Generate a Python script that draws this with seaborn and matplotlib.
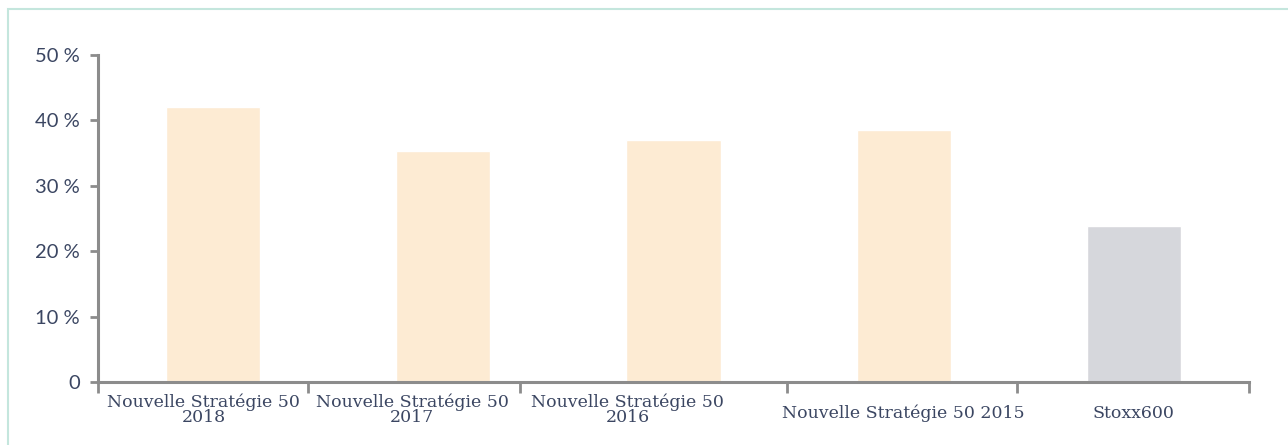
import numpy as np
import pandas as pd
import matplotlib
matplotlib.use("Agg")
import matplotlib.pyplot as plt
import seaborn as sns
from matplotlib.patches import Rectangle

categories = ["Nouvelle Stratégie 50\n2018", "Nouvelle Stratégie 50\n2017",
              "Nouvelle Stratégie 50\n2016", "Nouvelle Stratégie 50 2015", "Stoxx600"]
values = [42.1, 35.3, 37.0, 38.6, 23.8]
bar_colors = ["#fdebd3", "#fdebd3", "#fdebd3", "#fdebd3", "#d6d7dc"]
y_ticks = [0, 10, 20, 30, 40, 50]
y_labels = ["0", "10 %", "20 %", "30 %", "40 %", "50 %"]

# where the reference puts its separators and labels (band units)
sep_pos = [-0.5, 0.413, 1.335, 2.491, 3.491, 4.5]
label_pos = [-0.04, 0.865, 1.80, 3.0, 4.0]

sns.set_style("white")
text_col = "#3b4662"
axis_col = "#8c8c8c"

df = pd.DataFrame({"cat": categories, "val": values})

fig = plt.figure(figsize=(12.88, 4.45), dpi=100)
ax = fig.add_axes([98 / 1288, 1 - 382 / 445, (1249 - 98) / 1288, (382 - 55) / 445])

sns.barplot(data=df, x="cat", y="val", hue="cat", palette=bar_colors,
            width=0.41, legend=False, ax=ax, saturation=1)

ax.set_xlim(-0.5, 4.5)
ax.set_ylim(0, 50)
ax.set_xlabel("")
ax.set_ylabel("")

for s in ["top", "right"]:
    ax.spines[s].set_visible(False)
for s in ["left", "bottom"]:
    ax.spines[s].set_color(axis_col)
    ax.spines[s].set_linewidth(2.2)
ax.spines["bottom"].set_zorder(5)

ax.set_yticks(y_ticks)
ax.set_yticklabels(y_labels, family=["Lato", "DejaVu Sans"], fontsize=14.5,
                   color=text_col)
ax.tick_params(axis="y", left=True, length=6, width=2, color=axis_col, pad=7)

ax.set_xticks(label_pos)
ax.set_xticklabels(categories, family=["DejaVu Serif"],
                   fontsize=12.5, color=text_col, linespacing=0.9)
ax.tick_params(axis="x", which="major", bottom=False, length=0, pad=8)
ax.set_xticks(sep_pos, minor=True)
ax.tick_params(axis="x", which="minor", bottom=True, length=8, width=2, color=axis_col)

for lbl in ax.get_xticklabels()[3:]:
    lbl.set_y(-0.035)

fig.patches.append(Rectangle((8 / 1288, -0.05), 1.1, 1 - 9 / 445 + 0.05,
                             transform=fig.transFigure, fill=False,
                             edgecolor="#c4e6dd", linewidth=1.5))

fig.savefig("out.png", dpi=100)
